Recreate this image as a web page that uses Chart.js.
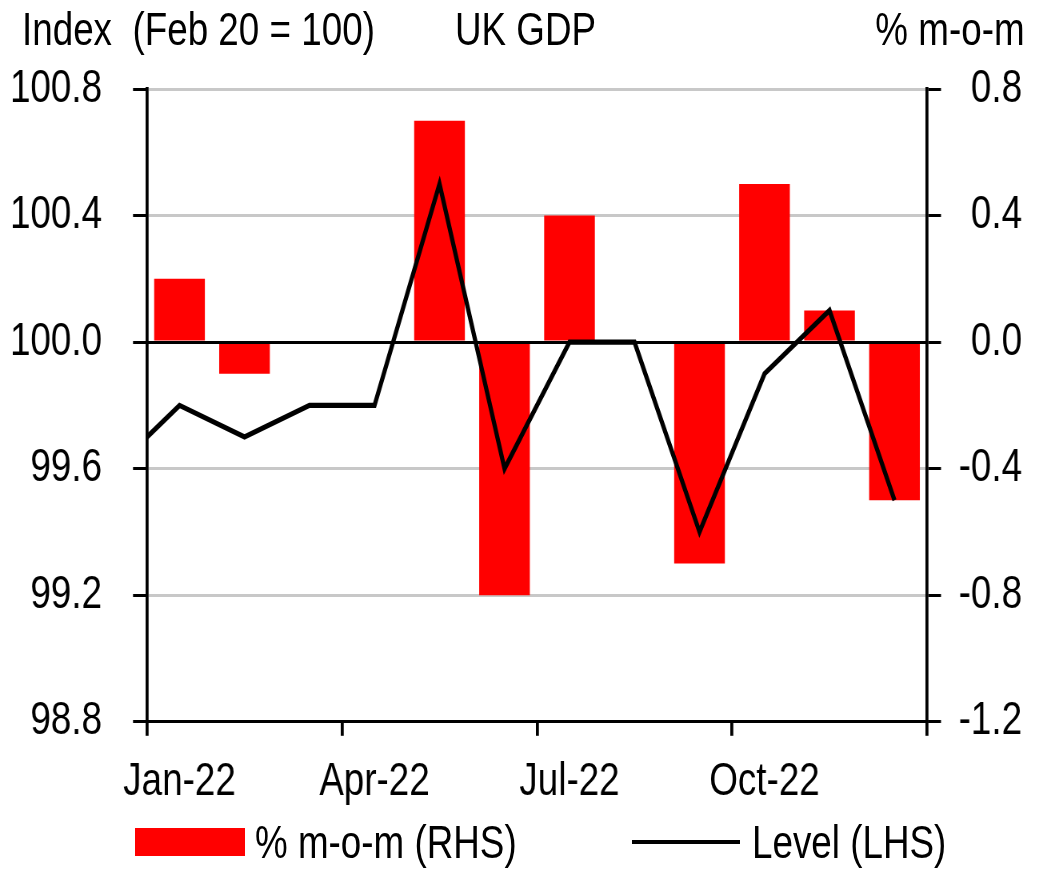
<!DOCTYPE html>
<html>
<head>
<meta charset="utf-8">
<title>UK GDP</title>
<script src="https://cdn.jsdelivr.net/npm/chart.js@4.4.1/dist/chart.umd.min.js"></script>
<style>
  html, body { margin: 0; padding: 0; background: #fff; }
  #wrap {
    position: relative; width: 1043px; height: 873px; overflow: hidden;
    font-family: 'Liberation Sans', Arial, sans-serif;
    font-size: 46px; color: #000;
  }
  #wrap canvas { position: absolute; left: 0; top: 0; }
  .head { position: absolute; top: 6px; line-height: 46px; white-space: pre; }
  .narrow-l { transform: scaleX(0.8); transform-origin: left center; }
  .narrow-r { transform: scaleX(0.8); transform-origin: right center; }
  .leg { position: absolute; top: 819px; height: 46px; display: flex; align-items: center;
         line-height: 46px; white-space: pre; }
</style>
</head>
<body>
<div id="wrap">
  <canvas id="gdp"></canvas>
  <div class="head narrow-l" style="left:22px">Index  (Feb 20 = 100)</div>
  <div class="head narrow-l" style="left:455px">UK GDP</div>
  <div class="head narrow-r" style="right:18px">% m-o-m</div>
  <div id="legend"></div>
</div>
<script>
// Monthly UK GDP, 2022
const months = ['Jan-22', 'Feb-22', 'Mar-22', 'Apr-22', 'May-22', 'Jun-22',
                'Jul-22', 'Aug-22', 'Sep-22', 'Oct-22', 'Nov-22', 'Dec-22'];
// month-on-month growth, % (right axis)
const momChange = [0.2, -0.1, 0.0, 0.0, 0.7, -0.8, 0.4, 0.0, -0.7, 0.5, 0.1, -0.5];
// GDP level, index Feb 2020 = 100 (left axis)
const gdpLevel = [99.8, 99.7, 99.8, 99.8, 100.5, 99.6, 100.0, 100.0, 99.4, 99.9, 100.1, 99.5];
// previous month (Dec-21), only its segment into the plot is visible
const levelDec21 = 99.6;

// axis ticks
const levelTicks = [98.8, 99.2, 99.6, 100.0, 100.4, 100.8];
const momTicks = [-1.2, -0.8, -0.4, 0.0, 0.4, 0.8];
const labelEvery = 3;

const BLACK = '#000000';
const GRID = '#c8c8c8';
const RED = '#ff0000';

// The canvas is drawn wider and squeezed back to 1043px so the lettering
// comes out condensed; horizontal sizes below are in canvas units.
const SX = 0.8;
const CSS_W = 1043, CSS_H = 873;
const canvas = document.getElementById('gdp');
canvas.width = Math.round(CSS_W / SX);
canvas.height = CSS_H;
canvas.style.width = CSS_W + 'px';
canvas.style.height = CSS_H + 'px';
const k = CSS_W / canvas.width;          // canvas unit -> screen px
const hx = px => px / k;                 // screen px -> canvas unit (horizontal)

Chart.defaults.font.family = "'Liberation Sans', Arial, sans-serif";
Chart.defaults.font.size = 46;
Chart.defaults.color = BLACK;

const labelIdx = months.map((m, i) => i).filter(i => i % labelEvery === 0);
const boundaryIdx = [];
for (let i = 0; i <= months.length; i += labelEvery) boundaryIdx.push(i - 0.5);

const levelPoints = [{ x: -1, y: levelDec21 }].concat(gdpLevel.map((v, i) => ({ x: i, y: v })));
const momPoints = momChange.map((v, i) => ({ x: i, y: v }));

const fixTicks = values => scale => { scale.ticks = values.map(v => ({ value: v })); };

const chart = new Chart(canvas, {
  type: 'bar',
  data: {
    datasets: [
      {
        type: 'line',
        label: 'Level (LHS)',
        data: levelPoints,
        xAxisID: 'x',
        yAxisID: 'y',
        borderColor: BLACK,
        backgroundColor: BLACK,
        borderWidth: 5.2,
        borderJoinStyle: 'miter',
        pointRadius: 0,
        tension: 0,
        clip: { left: 0, top: false, right: false, bottom: false }
      },
      {
        type: 'bar',
        label: '% m-o-m (RHS)',
        data: momPoints,
        xAxisID: 'x',
        yAxisID: 'y2',
        backgroundColor: RED,
        borderWidth: 0,
        barPercentage: 0.78,
        categoryPercentage: 1
      }
    ]
  },
  options: {
    responsive: false,
    animation: false,
    devicePixelRatio: 1,
    events: [],
    layout: { padding: { top: 89, bottom: 44, left: 0, right: hx(21) } },
    plugins: { legend: { display: false }, tooltip: { enabled: false } },
    scales: {
      x: {
        type: 'linear', position: 'bottom', weight: 0,
        min: -0.5, max: months.length - 0.5, offset: false,
        afterBuildTicks: fixTicks(boundaryIdx),
        ticks: { display: false },
        grid: { offset: false, drawOnChartArea: false, drawTicks: true, tickLength: 14,
                color: BLACK, lineWidth: hx(3) },
        border: { display: true, color: BLACK, width: 3 }
      },
      xl: {
        type: 'linear', position: 'bottom', weight: 1,
        min: -0.5, max: months.length - 0.5, offset: false,
        afterBuildTicks: fixTicks(labelIdx),
        ticks: { padding: 19, maxRotation: 0, autoSkip: false, callback: v => months[v] },
        grid: { display: false, drawTicks: false, offset: false },
        border: { display: false }
      },
      y: {
        position: 'left',
        min: levelTicks[0], max: levelTicks[levelTicks.length - 1],
        afterBuildTicks: fixTicks(levelTicks),
        afterFit: s => { s.width = hx(147); },
        ticks: { padding: hx(31), callback: v => v.toFixed(1) },
        grid: { color: GRID, tickColor: BLACK, lineWidth: 3, tickLength: hx(14) },
        border: { color: BLACK, width: hx(3) }
      },
      y2: {
        position: 'right',
        min: momTicks[0], max: momTicks[momTicks.length - 1],
        afterBuildTicks: fixTicks(momTicks),
        afterFit: s => { s.width = hx(95); },
        ticks: { padding: 0, crossAlign: 'far', callback: v => v.toFixed(1) },
        // zero line (and this axis line) are drawn over the bars
        grid: {
          z: 1, lineWidth: 3, tickLength: hx(14), tickColor: BLACK,
          color: c => (c.tick && Math.abs(c.tick.value) < 1e-9) ? BLACK : 'rgba(0,0,0,0)'
        },
        border: { z: 1, color: BLACK, width: hx(3) }
      }
    }
  }
});

// HTML legend built from the chart's datasets
(function buildLegend() {
  const host = document.getElementById('legend');
  const order = [1, 0];
  const lefts = [135, 632];
  order.forEach((dsIndex, n) => {
    const ds = chart.data.datasets[dsIndex];
    const item = document.createElement('div');
    item.className = 'leg';
    item.style.left = lefts[n] + 'px';
    const sw = document.createElement('span');
    if (ds.type === 'bar') {
      sw.style.cssText = 'display:inline-block;width:110px;height:28px;margin-right:10px;background:' + ds.backgroundColor;
    } else {
      sw.style.cssText = 'display:inline-block;width:108px;height:4px;margin-right:12px;background:' + ds.borderColor;
    }
    const tx = document.createElement('span');
    tx.className = 'narrow-l';
    tx.style.display = 'inline-block';
    tx.textContent = ds.label;
    item.appendChild(sw);
    item.appendChild(tx);
    host.appendChild(item);
  });
})();
</script>
</body>
</html>
